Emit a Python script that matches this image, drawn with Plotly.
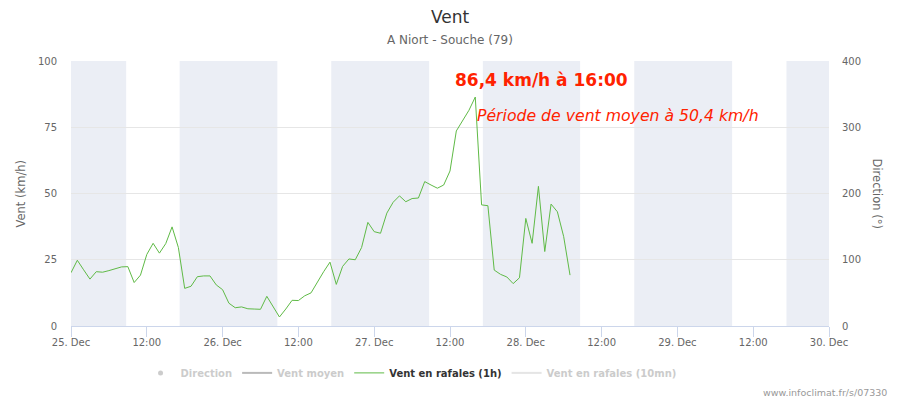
import pandas as pd
import plotly.graph_objects as go

# ---- data ----
start_time = "2020-12-25 00:00"
gust_1h = [20.1, 24.8, 21.2, 17.7, 20.5, 20.3, 20.9, 21.5, 22.3, 22.4,
           16.4, 19.2, 27.0, 31.2, 27.5, 31.1, 37.4, 29.6, 14.2, 15.0,
           18.6, 18.9, 18.9, 15.5, 13.7, 8.6, 6.9, 7.2, 6.5, 6.4,
           6.3, 11.2, 7.2, 3.4, 6.4, 9.7, 9.6, 11.4, 12.5, 16.7,
           20.5, 24.1, 15.7, 22.5, 25.3, 25.0, 29.6, 39.1, 35.6, 35.0,
           42.6, 46.7, 49.1, 46.9, 48.1, 48.3, 54.5, 53.2, 52.0, 53.2,
           58.5, 73.6, 77.4, 81.4, 86.4, 45.7, 45.4, 21.1, 19.5, 18.5,
           16.0, 18.2, 40.6, 31.2, 52.7, 28.1, 46.0, 43.1, 33.7, 19.2]
times = pd.date_range(start_time, periods=len(gust_1h), freq="h")

night_start = ["2020-12-25 00:00", "2020-12-25 17:12", "2020-12-26 17:12",
               "2020-12-27 17:12", "2020-12-28 17:10", "2020-12-29 17:16"]
night_end = ["2020-12-25 08:44", "2020-12-26 08:40", "2020-12-27 08:42",
             "2020-12-28 08:36", "2020-12-29 08:40", "2020-12-30 00:00"]

tick_vals = pd.date_range("2020-12-25 00:00", "2020-12-30 00:00", freq="12h")
tick_text = ["25. Dec", "12:00", "26. Dec", "12:00", "27. Dec", "12:00",
             "28. Dec", "12:00", "29. Dec", "12:00", "30. Dec"]

left_ticks = [0, 25, 50, 75, 100]
right_ticks = [0, 100, 200, 300, 400]

FONT = "DejaVu Sans"
fig = go.Figure()

fig.add_trace(go.Scatter(x=[times[0]], y=[None], mode="markers", yaxis="y2",
                         name='<span style="color:#999999">Direction</span>',
                         marker=dict(color="#999999", size=5),
                         visible="legendonly"))
fig.add_trace(go.Scatter(x=[times[0]], y=[None], mode="lines",
                         name='<span style="color:#999999">Vent moyen</span>',
                         line=dict(color="#777777", width=2),
                         visible="legendonly"))
fig.add_trace(go.Scatter(x=times, y=gust_1h, mode="lines",
                         name="Vent en rafales (1h)",
                         line=dict(color="#5fba46", width=1)))
fig.add_trace(go.Scatter(x=[times[0]], y=[None], mode="lines",
                         name='<span style="color:#999999">Vent en rafales (10mn)</span>',
                         line=dict(color="#cccccc", width=2),
                         visible="legendonly"))

shapes = []
for s, e in zip(night_start, night_end):
    shapes.append(dict(type="rect", xref="x", yref="paper", x0=s, x1=e,
                       y0=0, y1=1, fillcolor="#ebeef5", line=dict(width=0),
                       layer="below"))

annotations = [
    dict(text="Vent", xref="paper", yref="paper", x=0.5, y=1.166,
         showarrow=False, font=dict(family=FONT, size=17, color="#333333"),
         xanchor="center", yanchor="middle"),
    dict(text="A Niort - Souche (79)", xref="paper", yref="paper", x=0.5, y=1.079,
         showarrow=False, font=dict(family=FONT, size=12, color="#666666"),
         xanchor="center", yanchor="middle"),
    dict(text="Vent (km/h)", xref="paper", yref="paper", x=-0.066, y=0.5,
         textangle=-90, showarrow=False,
         font=dict(family=FONT, size=11.5, color="#666666"),
         xanchor="center", yanchor="middle"),
    dict(text="Direction (°)", xref="paper", yref="paper", x=1.0646, y=0.5,
         textangle=90, showarrow=False,
         font=dict(family=FONT, size=11.5, color="#666666"),
         xanchor="center", yanchor="middle"),
    dict(text="<b>86,4 km/h à 16:00</b>", xref="paper", yref="paper",
         x=0.5040, y=0.930, showarrow=False,
         font=dict(family=FONT, size=17, color="#ff2200"),
         xanchor="left", yanchor="middle"),
    dict(text="<i>Période de vent moyen à 50,4 km/h</i>", xref="paper", yref="paper",
         x=0.5330, y=0.796, showarrow=False,
         font=dict(family=FONT, size=15.7, color="#ff2200"),
         xanchor="left", yanchor="middle"),
    dict(text="www.infoclimat.fr/s/07330", xref="paper", yref="paper",
         x=(889 - 71) / 758, y=(326 - 392) / 265, showarrow=False,
         font=dict(family=FONT, size=9.5, color="#999999"),
         xanchor="right", yanchor="middle"),
]

fig.update_layout(
    width=900, height=400,
    margin=dict(l=71, r=71, t=61, b=74),
    paper_bgcolor="white", plot_bgcolor="white",
    font=dict(family=FONT, size=10, color="#666666"),
    showlegend=True,
    legend=dict(orientation="h", x=0.4486, xanchor="center", y=-0.177,
                yanchor="middle", itemwidth=30,
                font=dict(family=FONT, size=10, color="#333333", weight="bold")),
    xaxis=dict(range=[tick_vals[0], tick_vals[-1]], tickvals=tick_vals,
               ticktext=tick_text, showgrid=False, showline=True,
               linecolor="#ccd6eb", linewidth=1, ticks="outside", ticklen=10,
               tickcolor="#ccd6eb", ticklabelstandoff=-3,
               tickfont=dict(family=FONT, size=10, color="#666666"),
               zeroline=False),
    yaxis=dict(range=[0, 100], tickvals=left_ticks, showgrid=True,
               gridcolor="#e6e6e6", gridwidth=1, zeroline=False, showline=False,
               ticks="", ticklabelstandoff=13,
               tickfont=dict(family=FONT, size=10, color="#666666")),
    yaxis2=dict(range=[0, 400], tickvals=right_ticks, overlaying="y", side="right",
                showgrid=False, zeroline=False, showline=False, ticks="",
                ticklabelstandoff=12,
                tickfont=dict(family=FONT, size=10, color="#666666")),
    shapes=shapes,
    annotations=annotations,
)

fig.write_html("out.html", config={"displayModeBar": False},
               post_script="document.body.style.margin='0';")
